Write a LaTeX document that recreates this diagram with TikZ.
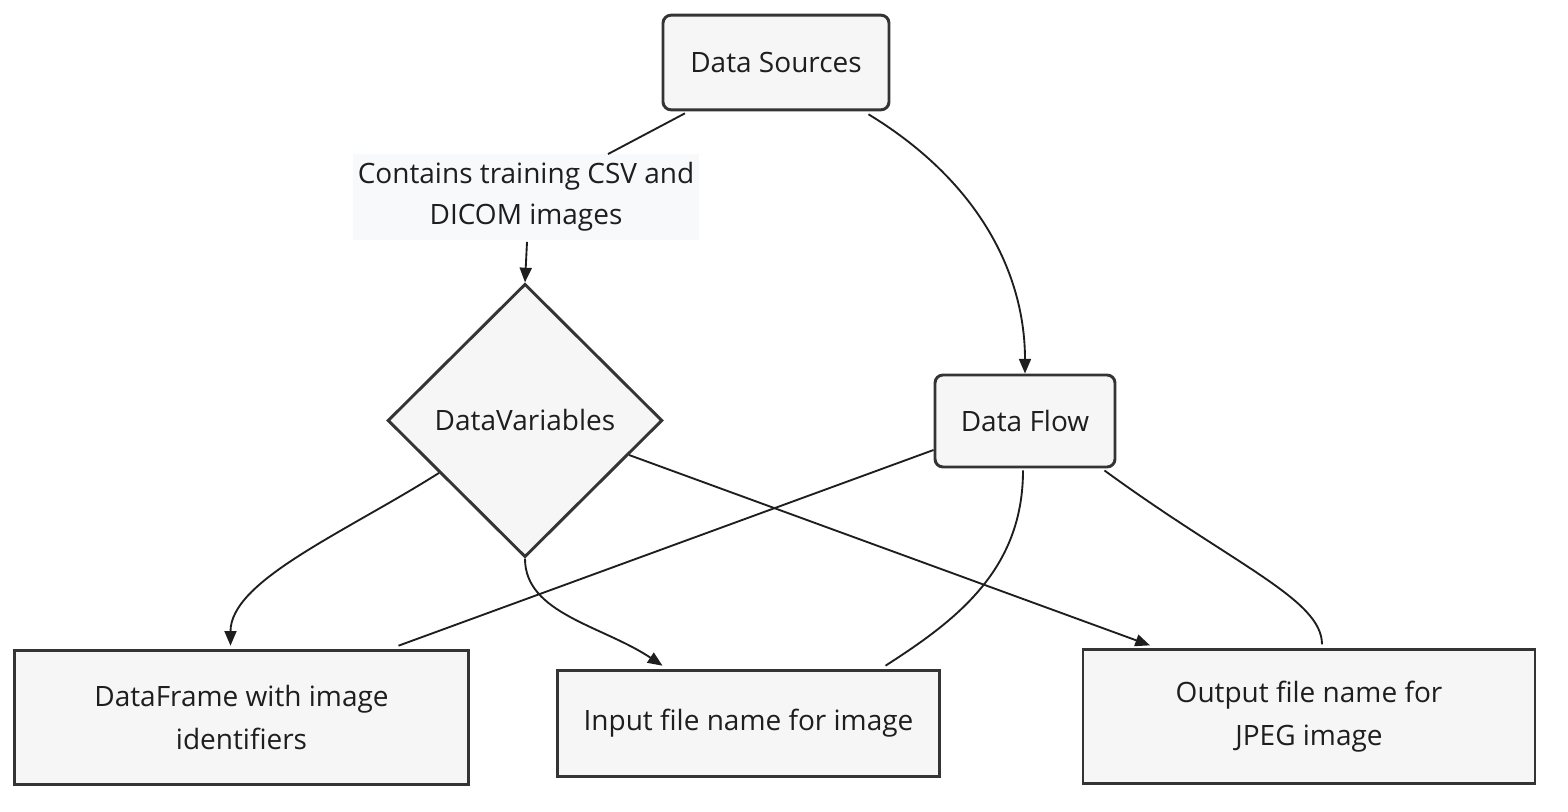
\documentclass[tikz,border=0pt]{standalone}
\usepackage{fontspec}
\setmainfont{Open Sans}
\usetikzlibrary{shapes.geometric,arrows.meta,calc}
\definecolor{ink}{RGB}{30,30,30}
\definecolor{edge}{RGB}{52,52,52}
\definecolor{paper}{RGB}{246,246,246}
\definecolor{tagbg}{RGB}{248,249,250}
\tikzset{
  box/.style={draw=edge, line width=2.2pt, fill=paper, align=center, inner sep=0pt, text=ink,
    font=\fontsize{21}{32}\selectfont},
  roundbox/.style={box, rounded corners=6pt},
  decision/.style={box, diamond, aspect=1},
  tag/.style={fill=tagbg, align=center, inner sep=0pt, text=ink, font=\fontsize{21}{31}\selectfont},
  link/.style={draw=ink, line width=1.4pt},
  flow/.style={link, -{Triangle[length=11pt,width=9pt]}},
}
\begin{document}
\begin{tikzpicture}[x=0.75pt,y=0.75pt,yscale=-1,xscale=1]
\useasboundingbox (0,0) rectangle (1568,812);

%Shape: Rounded Rectangle
\node[roundbox, minimum width=169.5pt, minimum height=71pt] (dsrc) at (776,62.5) {Data Sources};
%Shape: Label
\node[tag, minimum width=259.5pt, minimum height=64pt] (lbl) at (526,197) {Contains training CSV and\\DICOM images};
%Shape: Diamond
\node[decision, minimum width=206pt, minimum height=205pt] (dvar) at (525,420.5) {DataVariables};
%Shape: Rounded Rectangle
\node[roundbox, minimum width=135pt, minimum height=69pt] (dflow) at (1025,421) {Data Flow};
%Shape: Rectangle
\node[box, minimum width=340pt, minimum height=101pt] (dfr) at (241.5,717.5) {DataFrame with image\\identifiers};
%Shape: Rectangle
\node[box, minimum width=287pt, minimum height=80pt] (inp) at (748.5,723.5) {Input file name for image};
%Shape: Rectangle
\node[box, minimum width=339pt, minimum height=100pt] (out) at (1309,716.5) {Output file name for\\JPEG image};

%Straight Lines
\draw[link] ($(dsrc.south)+(-91,2)$) -- ($(lbl.north)+(82,0)$);
\draw[flow] ($(lbl.south)+(1,2)$) -- (dvar.north);
%Curve Lines
\draw[flow] ($(dsrc.south east)+(-22,3)$) .. controls +(115,70) and +(0,-95) .. (dflow.north);
\draw[flow] ($(dvar.west)!0.38!(dvar.south)$) .. controls +(-95,60) and +(0,-65) .. ($(dfr.north)+(-11,-3)$);
\draw[flow] (dvar.south) .. controls +(0,55) and +(-60,-40) .. ($(inp.north)+(-86,-3)$);
\draw[flow] ($(dvar.east)!0.25!(dvar.south)$) -- ($(out.north)+(-159,-3)$);
\draw[link] ($(dflow.west)+(0,29)$) -- ($(dfr.north)+(157,-3)$);
\draw[link] ($(dflow.south)+(-2,2)$) .. controls +(0,100) and +(70,-45) .. ($(inp.north)+(137,-3)$);
\draw[link] ($(dflow.south east)+(-12,2)$) .. controls +(130,95) and +(0,-45) .. ($(out.north)+(13,-4)$);

\end{tikzpicture}
\end{document}
